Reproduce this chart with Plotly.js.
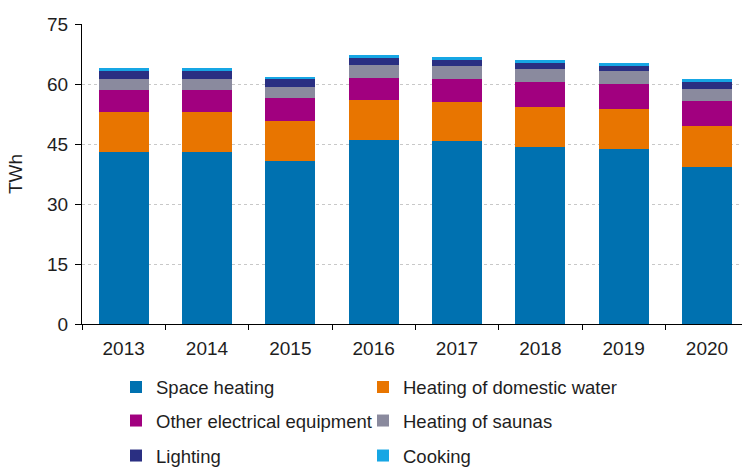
<!DOCTYPE html>
<html>
<head>
<meta charset="utf-8">
<script src="https://cdn.plot.ly/plotly-3.0.1.min.js"></script>
<style>html,body{margin:0;padding:0;background:#fff;}#chart{width:742px;height:467px;}</style>
</head>
<body>
<div id="chart"></div>
<script>
const years = ["2013","2014","2015","2016","2017","2018","2019","2020"];
const spaceHeating = [42.9, 42.9, 40.8, 46.0, 45.7, 44.3, 43.7, 39.2];
const domesticWater = [10.0, 10.0, 10.0, 10.0, 9.9, 10.0, 10.0, 10.4];
const otherElectrical = [5.5, 5.5, 5.6, 5.6, 5.7, 6.2, 6.4, 6.1];
const saunas = [2.8, 2.8, 2.8, 3.2, 3.1, 3.2, 3.1, 3.1];
const lighting = [2.1, 2.1, 2.0, 1.6, 1.6, 1.5, 1.3, 1.6];
const cooking = [0.7, 0.7, 0.5, 0.8, 0.8, 0.8, 0.7, 0.8];

const seriesNames = ["Space heating", "Heating of domestic water", "Other electrical equipment", "Heating of saunas", "Lighting", "Cooking"];
const seriesValues = [spaceHeating, domesticWater, otherElectrical, saunas, lighting, cooking];
const seriesColors = ["#0071B0", "#E87500", "#A1007F", "#8A8A9E", "#2A2F82", "#16A6E4"];
const legendIds = ["legend", "legend2", "legend3", "legend4", "legend5", "legend6"];

const traces = seriesNames.map((n, i) => ({
  type: "bar",
  name: n,
  x: years,
  y: seriesValues[i],
  marker: {color: seriesColors[i], line: {width: 0}},
  legend: legendIds[i]
}));

const textColor = "#1e1e1e";
const fontFam = "Liberation Sans, Arial, sans-serif";
const colX = [116 / 742, 363 / 742];
const rowY = [1 - 387.5 / 467, 1 - 421 / 467, 1 - 456 / 467];

const layout = {
  width: 742,
  height: 467,
  margin: {l: 82, r: 0, t: 24, b: 143},
  paper_bgcolor: "#ffffff",
  plot_bgcolor: "#ffffff",
  barmode: "stack",
  bargap: 0.4,
  font: {family: fontFam, size: 19, color: textColor},
  xaxis: {
    type: "category",
    range: [-0.5, 7.42],
    showline: true,
    linecolor: "#000",
    linewidth: 1,
    ticks: "outside",
    tickson: "boundaries",
    ticklen: 5,
    tickcolor: "#000",
    ticklabelstandoff: 7,
    tickangle: 0,
    showgrid: false,
    zeroline: false,
    automargin: false,
    tickfont: {size: 19, color: textColor}
  },
  yaxis: {
    range: [0, 75],
    dtick: 15,
    tick0: 0,
    showline: true,
    linecolor: "#000",
    linewidth: 1,
    ticks: "outside",
    ticklen: 6,
    tickcolor: "#000",
    ticklabelstandoff: 3,
    showgrid: true,
    gridcolor: "#c8c8c8",
    griddash: "dot",
    gridwidth: 1,
    zeroline: false,
    automargin: false,
    tickfont: {size: 19, color: textColor},
    title: {text: "TWh", standoff: 19, font: {size: 19, color: textColor}}
  },
  showlegend: true
};

legendIds.forEach((id, i) => {
  layout[id] = {
    orientation: "h",
    xref: "container",
    yref: "container",
    x: colX[i % 2],
    y: rowY[Math.floor(i / 2)],
    xanchor: "left",
    yanchor: "middle",
    font: {family: fontFam, size: 18.5, color: textColor},
    bgcolor: "rgba(0,0,0,0)",
    borderwidth: 0
  };
});

Plotly.newPlot("chart", traces, layout, {displayModeBar: false, staticPlot: true});
</script>
</body>
</html>
